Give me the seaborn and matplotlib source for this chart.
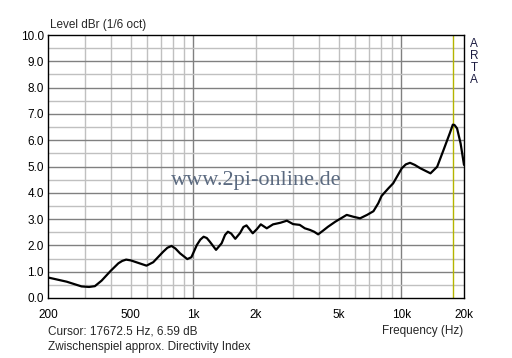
import numpy as np
import pandas as pd
import seaborn as sns
import matplotlib.pyplot as plt
from matplotlib.ticker import FixedLocator, NullFormatter

# Directivity index curve
freq = [200, 246, 290, 315, 336, 362, 400, 436, 455, 475, 500, 536, 595, 641,
        716, 750, 785, 820, 862, 935, 978, 1040, 1080, 1120, 1160, 1200, 1285,
        1367, 1420, 1465, 1520, 1590, 1676, 1740, 1800, 1860, 1929, 2020, 2109,
        2253, 2415, 2618, 2815, 3015, 3245, 3434, 3630, 3805, 3980, 4200, 4440,
        4810, 5050, 5460, 5870, 6330, 6840, 7340, 7740, 8030, 8660, 9130, 10040,
        10500, 11000, 11600, 12350, 13800, 14860, 15950, 17080, 17670, 17990,
        18520, 19260, 20000]
level = [0.78, 0.62, 0.44, 0.42, 0.45, 0.66, 1.03, 1.32, 1.41, 1.46, 1.43, 1.35,
         1.23, 1.36, 1.76, 1.91, 1.98, 1.88, 1.70, 1.48, 1.55, 2.02, 2.22, 2.33,
         2.28, 2.14, 1.83, 2.08, 2.40, 2.52, 2.45, 2.25, 2.47, 2.70, 2.76, 2.62,
         2.46, 2.62, 2.80, 2.65, 2.80, 2.86, 2.94, 2.81, 2.78, 2.65, 2.59, 2.52,
         2.42, 2.56, 2.71, 2.90, 3.00, 3.16, 3.09, 3.03, 3.16, 3.30, 3.60, 3.88,
         4.17, 4.36, 4.93, 5.08, 5.14, 5.06, 4.93, 4.74, 4.99, 5.63, 6.26, 6.59,
         6.58, 6.45, 5.88, 5.06]

x_ticks = [200, 500, 1000, 2000, 5000, 10000, 20000]
x_labels = ["200", "500", "1k", "2k", "5k", "10k", "20k"]
y_ticks = np.arange(0, 10.5, 1.0)
cursor_freq = 17672.5
cursor_db = 6.59

df = pd.DataFrame({"Frequency": freq, "Level": level})

sns.set_style("white")
plt.rcParams["font.family"] = ["Liberation Sans", "DejaVu Sans"]

fig = plt.figure(figsize=(5.12, 3.58), dpi=100)
ax = fig.add_axes([48 / 512, 1 - 298 / 358, 416 / 512, 263 / 358])
ax.set_xscale("log")
ax.set_xlim(200, 20000)
ax.set_ylim(0, 10)

# grid: minor light, decades / integer dB darker
minor_x = [f for d in (100, 1000, 10000) for f in range(2 * d, 10 * d, d)
           if 200 < f < 20000]
for f in minor_x:
    ax.axvline(f, color="#c0c0c0", lw=1, zorder=0)
for f in (1000, 10000):
    ax.axvline(f, color="#808080", lw=1, zorder=0)
for v in np.arange(0.5, 10, 1.0):
    ax.axhline(v, color="#c0c0c0", lw=1, zorder=0)
for v in range(1, 10):
    ax.axhline(v, color="#808080", lw=1, zorder=0)

ax.axvline(cursor_freq, color="#b4b400", lw=1, zorder=1)

sns.lineplot(data=df, x="Frequency", y="Level", color="black", lw=1.6, ax=ax,
             zorder=3)

ax.xaxis.set_major_locator(FixedLocator(x_ticks))
ax.xaxis.set_minor_formatter(NullFormatter())
ax.set_xticklabels(x_labels)
ax.set_yticks(y_ticks)
ax.set_yticklabels([f"{v:.1f}" for v in y_ticks])
ax.tick_params(axis="both", which="both", length=0, labelsize=8.5, colors="black")
ax.tick_params(axis="x", pad=8)
ax.tick_params(axis="y", pad=3)
ax.set_xlabel("")
ax.set_ylabel("")
for s in ax.spines.values():
    s.set_color("black")
    s.set_linewidth(1)

def px(x, y):
    return x / 512, 1 - y / 358

fs = 8.5
fig.text(*px(50, 25), "Level dBr (1/6 oct)", fontsize=fs, va="center", ha="left")
fig.text(*px(463, 331), "Frequency (Hz)", fontsize=fs, va="center", ha="right")
fig.text(*px(48, 331), f"Cursor: {cursor_freq} Hz, {cursor_db} dB", fontsize=fs,
         va="center", ha="left")
fig.text(*px(48, 347), "Zwischenspiel approx. Directivity Index", fontsize=fs,
         va="center", ha="left")
for i, ch in enumerate("ARTA"):
    fig.text(*px(474, 44 + 12 * i), ch, fontsize=fs, va="center", ha="center",
             color="#1a1a40")
fig.text(*px(256, 180), "www.2pi-online.de", fontsize=16, va="center",
         ha="center", color="#5b6a80", family="Liberation Serif")

fig.savefig("out.png", dpi=100)
